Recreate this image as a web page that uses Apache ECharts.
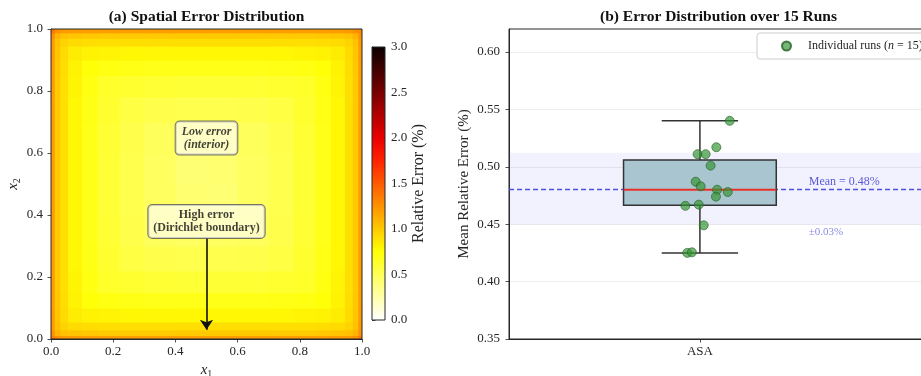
<!DOCTYPE html>
<html>
<head>
<meta charset="utf-8">
<script src="https://cdn.jsdelivr.net/npm/echarts@6.0.0/dist/echarts.min.js"></script>
<style>
html, body { margin: 0; padding: 0; background: #fff; }
#chart { width: 921px; height: 376px; }
</style>
</head>
<body>
<div id="chart"></div>
<script>
// (a) cell edges along x1 / x2 and relative error (%) of each cell, rows from x2 = 0 upward
var gridEdges = [0, 0.012, 0.03, 0.055, 0.1, 0.15, 0.22, 0.3, 0.4, 0.5, 0.6, 0.7, 0.78, 0.85, 0.9, 0.945, 0.97, 0.988, 1];
var errorGrid = [
  [1.34, 1.26, 1.22, 1.21, 1.20, 1.20, 1.20, 1.20, 1.20, 1.20, 1.20, 1.20, 1.20, 1.20, 1.21, 1.22, 1.26, 1.36],
  [1.26, 1.10, 1.04, 1.02, 1.01, 1.00, 1.00, 1.00, 1.00, 1.00, 1.00, 1.00, 1.00, 1.01, 1.02, 1.04, 1.10, 1.26],
  [1.22, 1.04, 0.96, 0.92, 0.91, 0.90, 0.90, 0.90, 0.90, 0.90, 0.90, 0.90, 0.90, 0.91, 0.92, 0.96, 1.04, 1.22],
  [1.21, 1.02, 0.92, 0.84, 0.81, 0.80, 0.79, 0.79, 0.79, 0.79, 0.79, 0.79, 0.80, 0.81, 0.84, 0.92, 1.02, 1.21],
  [1.20, 1.01, 0.91, 0.81, 0.74, 0.71, 0.70, 0.69, 0.69, 0.69, 0.69, 0.70, 0.71, 0.74, 0.81, 0.91, 1.01, 1.20],
  [1.20, 1.00, 0.90, 0.80, 0.71, 0.64, 0.62, 0.61, 0.60, 0.60, 0.61, 0.62, 0.64, 0.71, 0.80, 0.90, 1.00, 1.20],
  [1.20, 1.00, 0.90, 0.79, 0.70, 0.62, 0.56, 0.54, 0.53, 0.53, 0.54, 0.56, 0.62, 0.70, 0.79, 0.90, 1.00, 1.20],
  [1.20, 1.00, 0.90, 0.79, 0.69, 0.61, 0.54, 0.49, 0.48, 0.48, 0.49, 0.54, 0.61, 0.69, 0.79, 0.90, 1.00, 1.20],
  [1.20, 1.00, 0.90, 0.79, 0.69, 0.60, 0.53, 0.48, 0.43, 0.42, 0.48, 0.53, 0.60, 0.69, 0.79, 0.90, 1.00, 1.20],
  [1.20, 1.00, 0.90, 0.79, 0.69, 0.60, 0.53, 0.48, 0.42, 0.43, 0.48, 0.53, 0.60, 0.69, 0.79, 0.90, 1.00, 1.20],
  [1.20, 1.00, 0.90, 0.79, 0.69, 0.61, 0.54, 0.49, 0.48, 0.48, 0.49, 0.54, 0.61, 0.69, 0.79, 0.90, 1.00, 1.20],
  [1.20, 1.00, 0.90, 0.79, 0.70, 0.62, 0.56, 0.54, 0.53, 0.53, 0.54, 0.56, 0.62, 0.70, 0.79, 0.90, 1.00, 1.20],
  [1.20, 1.00, 0.90, 0.80, 0.71, 0.64, 0.62, 0.61, 0.60, 0.60, 0.61, 0.62, 0.64, 0.71, 0.80, 0.90, 1.00, 1.20],
  [1.20, 1.01, 0.91, 0.81, 0.74, 0.71, 0.70, 0.69, 0.69, 0.69, 0.69, 0.70, 0.71, 0.74, 0.81, 0.91, 1.01, 1.20],
  [1.21, 1.02, 0.92, 0.84, 0.81, 0.80, 0.79, 0.79, 0.79, 0.79, 0.79, 0.79, 0.80, 0.81, 0.84, 0.92, 1.02, 1.21],
  [1.22, 1.04, 0.96, 0.92, 0.91, 0.90, 0.90, 0.90, 0.90, 0.90, 0.90, 0.90, 0.90, 0.91, 0.92, 0.96, 1.04, 1.22],
  [1.26, 1.10, 1.04, 1.02, 1.01, 1.00, 1.00, 1.00, 1.00, 1.00, 1.00, 1.00, 1.00, 1.01, 1.02, 1.04, 1.10, 1.26],
  [1.38, 1.26, 1.22, 1.21, 1.20, 1.20, 1.20, 1.20, 1.20, 1.20, 1.20, 1.20, 1.20, 1.20, 1.21, 1.22, 1.26, 1.30]
];
var errorRange = [0, 3];

// (b) mean relative error (%) of each run, with the horizontal jitter used to draw it
var runCategory = 'ASA';
var runErrors = [0.540, 0.517, 0.511, 0.511, 0.501, 0.487, 0.483, 0.480, 0.478, 0.474, 0.466, 0.467, 0.449, 0.425, 0.4255];
var runJitter = [0.078, 0.043, -0.006, 0.015, 0.028, -0.011, 0.002, 0.045, 0.073, 0.042, -0.038, -0.003, 0.010, -0.033, -0.021];
var errTicks = [0.35, 0.40, 0.45, 0.50, 0.55, 0.60];

// matplotlib "hot_r"
var hotColors = ['#ffffff', '#ffffab', '#ffff58', '#ffff04', '#ffca00', '#ff9200', '#ff5a00',
  '#ff2300', '#ea0000', '#b20000', '#7a0000', '#420000', '#0b0000'];

var FONT = 'Liberation Serif, DejaVu Serif, serif';
var INK = '#262626';

var heatCells = [];
for (var r = 0; r < errorGrid.length; r++) {
  for (var c = 0; c < errorGrid[r].length; c++) {
    heatCells.push([gridEdges[c], gridEdges[c + 1], gridEdges[r], gridEdges[r + 1], errorGrid[r][c]]);
  }
}

// box statistics like matplotlib (linear percentiles, 1.5 IQR whiskers)
var sorted = runErrors.slice().sort(function (a, b) { return a - b; });
function pct(p) {
  var i = (sorted.length - 1) * p, lo = Math.floor(i), hi = Math.ceil(i);
  return sorted[lo] + (sorted[hi] - sorted[lo]) * (i - lo);
}
var q1 = pct(0.25), med = pct(0.5), q3 = pct(0.75), iqr = q3 - q1;
var whiskLo = Math.min.apply(null, sorted.filter(function (v) { return v >= q1 - 1.5 * iqr; }));
var whiskHi = Math.max.apply(null, sorted.filter(function (v) { return v <= q3 + 1.5 * iqr; }));
var meanErr = runErrors.reduce(function (s, v) { return s + v; }, 0) / runErrors.length;
var stdErr = Math.sqrt(runErrors.reduce(function (s, v) { return s + (v - meanErr) * (v - meanErr); }, 0) / runErrors.length);

var runPoints = runErrors.map(function (v, i) { return [1 + runJitter[i], v]; });
var runName = 'Individual runs (n = ' + runErrors.length + ')';

var chart = echarts.init(document.getElementById('chart'));

var tickLbl = { color: INK, fontFamily: FONT, fontSize: 13 };
var axLine = { show: true, lineStyle: { color: INK, width: 1 } };
var axTick = { show: true, length: 3.5, lineStyle: { color: INK, width: 0.8 } };

var option = {
  animation: false,
  backgroundColor: '#fff',
  textStyle: { fontFamily: FONT },
  title: [
    { text: '(a) Spatial Error Distribution', left: 206.5, top: 9, textAlign: 'center', padding: 0,
      textStyle: { fontFamily: FONT, fontSize: 15.5, fontWeight: 'bold', color: '#111' } },
    { text: '(b) Error Distribution over 15 Runs', left: 718.5, top: 9, textAlign: 'center', padding: 0,
      textStyle: { fontFamily: FONT, fontSize: 15.5, fontWeight: 'bold', color: '#111' } }
  ],
  legend: {
    data: [runName],
    left: 757, top: 33,
    padding: [7, 30, 7, 24],
    icon: 'circle', itemWidth: 9, itemHeight: 9,
    borderColor: '#cccccc', borderWidth: 1, borderRadius: 3,
    backgroundColor: 'rgba(255,255,255,0.85)',
    formatter: function () { return '{t|Individual runs (}{i|n}{t| = ' + runErrors.length + ')}'; },
    textStyle: {
      padding: [0, 0, 0, 12],
      rich: {
        t: { fontFamily: FONT, fontSize: 12, color: INK },
        i: { fontFamily: FONT, fontSize: 12, color: INK, fontStyle: 'italic' }
      }
    }
  },
  visualMap: {
    show: false, type: 'continuous', seriesIndex: 0, dimension: 4,
    min: errorRange[0], max: errorRange[1],
    inRange: { color: hotColors }
  },
  grid: [
    { left: 51, top: 29, width: 311, height: 310, show: true, z: 5, outerBoundsMode: 'none',
      backgroundColor: 'transparent', borderColor: INK, borderWidth: 1 },
    { left: 372, top: 47, width: 13, height: 273, show: true, z: 5, outerBoundsMode: 'none',
      backgroundColor: 'transparent', borderColor: INK, borderWidth: 1 },
    { left: 509, top: 29, right: -8, height: 310, show: true, outerBoundsMode: 'none',
      backgroundColor: 'transparent', borderColor: INK, borderWidth: 1 }
  ],
  xAxis: [
    { gridIndex: 0, type: 'value', min: 0, max: 1, interval: 0.2,
      axisLine: axLine, axisTick: axTick, splitLine: { show: false },
      axisLabel: Object.assign({ margin: 6, formatter: function (v) { return v.toFixed(1); } }, tickLbl),
      name: '{i|x}{s|1}', nameLocation: 'middle', nameGap: 18,
      nameTextStyle: { rich: {
        i: { fontFamily: FONT, fontSize: 15, fontStyle: 'italic', color: INK, lineHeight: 18 },
        s: { fontFamily: FONT, fontSize: 10, color: INK, lineHeight: 18, verticalAlign: 'bottom' }
      } } },
    { gridIndex: 1, type: 'value', min: 0, max: 1, show: false },
    { gridIndex: 2, type: 'value', min: 0.5, max: 1.6,
      axisLine: axLine, splitLine: { show: false },
      axisTick: Object.assign({ customValues: [1] }, axTick),
      axisLabel: Object.assign({ margin: 6, customValues: [1], formatter: function () { return runCategory; } }, tickLbl) }
  ],
  yAxis: [
    { gridIndex: 0, type: 'value', min: 0, max: 1, interval: 0.2,
      axisLine: axLine, axisTick: axTick, splitLine: { show: false },
      axisLabel: Object.assign({ margin: 8, formatter: function (v) { return v.toFixed(1); } }, tickLbl),
      name: '{i|x}{s|2}', nameLocation: 'middle', nameGap: 29,
      nameTextStyle: { rich: {
        i: { fontFamily: FONT, fontSize: 15, fontStyle: 'italic', color: INK, lineHeight: 18 },
        s: { fontFamily: FONT, fontSize: 10, color: INK, lineHeight: 18, verticalAlign: 'bottom' }
      } } },
    { gridIndex: 1, type: 'value', position: 'right', min: errorRange[0], max: errorRange[1], interval: 0.5,
      axisLine: axLine, axisTick: axTick, splitLine: { show: false },
      axisLabel: Object.assign({ margin: 6, formatter: function (v) { return v.toFixed(1); } }, tickLbl),
      name: 'Relative Error (%)', nameLocation: 'middle', nameGap: 25, nameRotate: 90,
      nameTextStyle: { fontFamily: FONT, fontSize: 16, color: INK } },
    { gridIndex: 2, type: 'value', min: 0.35, max: 0.62, interval: 0.05,
      axisLine: axLine,
      axisTick: Object.assign({ customValues: errTicks }, axTick),
      splitLine: { show: true, lineStyle: { color: '#e8e8e8', width: 0.8 } },
      axisLabel: Object.assign({ margin: 9, customValues: errTicks, formatter: function (v) { return v.toFixed(2); } }, tickLbl),
      name: 'Mean Relative Error (%)', nameLocation: 'middle', nameGap: 37,
      nameTextStyle: { fontFamily: FONT, fontSize: 15, color: INK } }
  ],
  series: [
    // (a) error field
    {
      type: 'custom', xAxisIndex: 0, yAxisIndex: 0, clip: true, silent: true,
      data: heatCells,
      renderItem: function (params, api) {
        var p0 = api.coord([api.value(0), api.value(2)]);
        var p1 = api.coord([api.value(1), api.value(3)]);
        return {
          type: 'rect',
          shape: { x: p0[0], y: p1[1], width: p1[0] - p0[0] + 0.6, height: p0[1] - p1[1] + 0.6 },
          style: { fill: api.visual('color') }
        };
      }
    },
    // colorbar
    {
      type: 'custom', xAxisIndex: 1, yAxisIndex: 1, silent: true,
      data: [errorRange],
      renderItem: function (params, api) {
        var p0 = api.coord([0, api.value(0)]);
        var p1 = api.coord([1, api.value(1)]);
        var stops = hotColors.map(function (col, i) { return { offset: i / (hotColors.length - 1), color: col }; });
        return {
          type: 'rect',
          shape: { x: p0[0], y: p1[1], width: p1[0] - p0[0], height: p0[1] - p1[1] },
          style: { fill: new echarts.graphic.LinearGradient(0, 1, 0, 0, stops) }
        };
      }
    },
    // (a) annotations
    {
      type: 'scatter', xAxisIndex: 0, yAxisIndex: 0, symbolSize: 0, silent: true, z: 6,
      data: [
        { value: [0.5, 0.648], label: { formatter: 'Low error\n(interior)', fontStyle: 'italic', padding: [4, 6, 3, 6] } },
        { value: [0.5, 0.379], label: { formatter: 'High error\n(Dirichlet boundary)', padding: [4, 5, 3, 5] } }
      ],
      label: {
        show: true, position: 'inside', fontFamily: FONT, fontSize: 12, fontWeight: 'bold',
        color: '#111', lineHeight: 13, align: 'center',
        backgroundColor: 'rgba(255,255,255,0.8)', borderColor: '#555', borderWidth: 1, borderRadius: 4
      },
      markLine: {
        silent: true, symbol: ['none', 'arrow'], symbolSize: 10,
        label: { show: false },
        lineStyle: { color: '#111', width: 1.6, type: 'solid' },
        data: [[{ coord: [0.5, 0.325] }, { coord: [0.5, 0.03] }]]
      }
    },
    // (b) mean +/- std band and mean line
    {
      type: 'line', xAxisIndex: 2, yAxisIndex: 2, data: [], silent: true,
      markArea: {
        silent: true, z: 1,
        itemStyle: { color: 'rgba(110,110,255,0.09)' },
        data: [[{ yAxis: meanErr - stdErr }, { yAxis: meanErr + stdErr }]]
      },
      markLine: {
        silent: true, z: 2, symbol: ['none', 'none'],
        label: { show: false },
        lineStyle: { color: '#5050d8', width: 1.3, type: [5, 3] },
        data: [{ yAxis: meanErr }]
      }
    },
    // (b) box plot
    {
      type: 'custom', xAxisIndex: 2, yAxisIndex: 2, z: 3, silent: true,
      data: [[1, whiskLo, q1, med, q3, whiskHi]],
      renderItem: function (params, api) {
        var x = api.value(0);
        var bl = api.coord([x - 0.2, api.value(2)]);
        var tr = api.coord([x + 0.2, api.value(4)]);
        var mL = api.coord([x - 0.2, api.value(3)]);
        var mR = api.coord([x + 0.2, api.value(3)]);
        var lo = api.coord([x, api.value(1)]);
        var hi = api.coord([x, api.value(5)]);
        var capL = api.coord([x - 0.1, 0])[0], capR = api.coord([x + 0.1, 0])[0];
        var ink = { stroke: '#333', lineWidth: 1.5 };
        return {
          type: 'group',
          children: [
            { type: 'line', shape: { x1: lo[0], y1: lo[1], x2: lo[0], y2: bl[1] }, style: ink },
            { type: 'line', shape: { x1: hi[0], y1: hi[1], x2: hi[0], y2: tr[1] }, style: ink },
            { type: 'line', shape: { x1: capL, y1: lo[1], x2: capR, y2: lo[1] }, style: ink },
            { type: 'line', shape: { x1: capL, y1: hi[1], x2: capR, y2: hi[1] }, style: ink },
            { type: 'rect', shape: { x: bl[0], y: tr[1], width: tr[0] - bl[0], height: bl[1] - tr[1] },
              style: { fill: '#a9c5cf', stroke: '#333', lineWidth: 1.5 } },
            { type: 'line', shape: { x1: mL[0], y1: mL[1], x2: mR[0], y2: mR[1] },
              style: { stroke: '#e8302a', lineWidth: 2.2 } }
          ]
        };
      }
    },
    // (b) individual runs
    {
      name: runName, type: 'scatter', xAxisIndex: 2, yAxisIndex: 2, z: 4,
      symbolSize: 9, data: runPoints,
      itemStyle: { color: 'rgba(52,148,52,0.85)', borderColor: '#246024', borderWidth: 0.8 }
    },
    // (b) mean / std text
    {
      type: 'scatter', xAxisIndex: 2, yAxisIndex: 2, symbolSize: 0, silent: true, z: 5,
      data: [
        { value: [1.285, meanErr], label: { formatter: 'Mean = ' + meanErr.toFixed(2) + '%',
          fontSize: 12, color: '#3333cc', verticalAlign: 'bottom', offset: [0, -1] } },
        { value: [1.285, meanErr - stdErr], label: { formatter: '\u00b1' + stdErr.toFixed(2) + '%',
          fontSize: 11, color: '#6c6cdc', verticalAlign: 'top', offset: [0, 2] } }
      ],
      label: { show: true, position: [0, 0], align: 'left', fontFamily: FONT }
    }
  ]
};

chart.setOption(option);
</script>
</body>
</html>
